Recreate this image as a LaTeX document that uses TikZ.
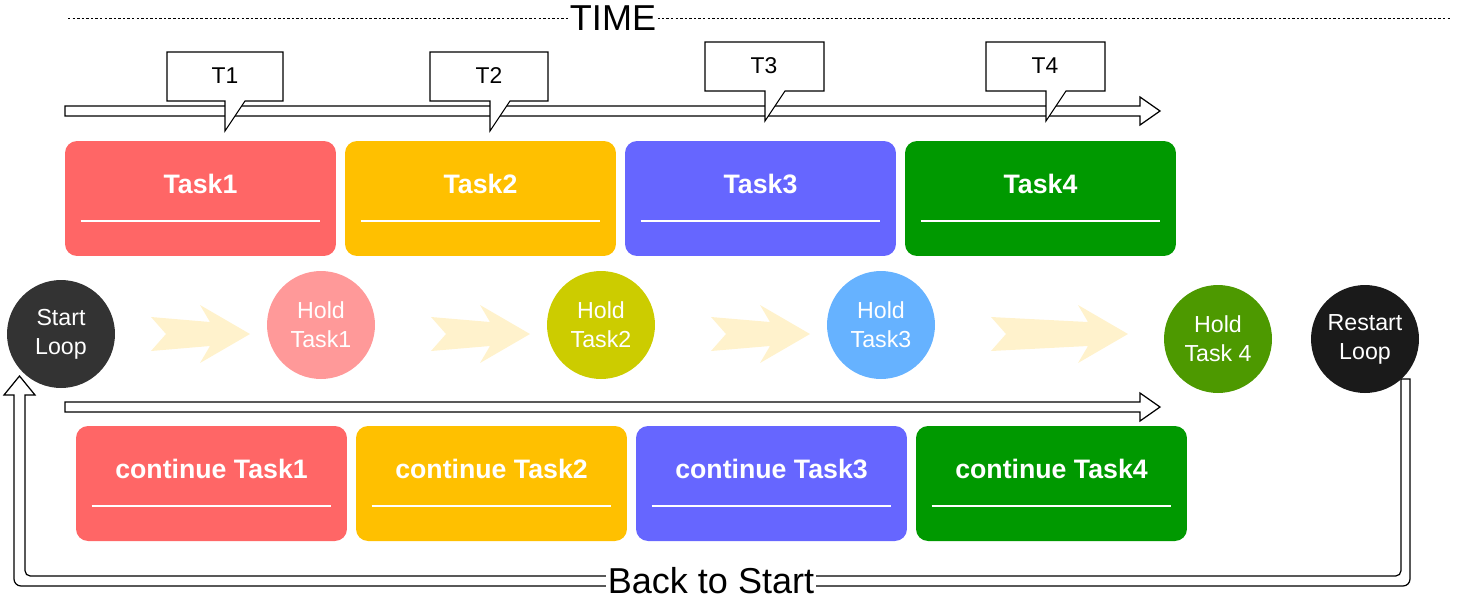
\documentclass[tikz,border=0pt]{standalone}
\usepackage{fontspec}
\setmainfont{Liberation Sans}
\usetikzlibrary{calc}

\definecolor{taskred}{HTML}{FF6666}
\definecolor{taskyellow}{HTML}{FFC000}
\definecolor{taskblue}{HTML}{6666FF}
\definecolor{taskgreen}{HTML}{009900}
\definecolor{holdred}{HTML}{FF9999}
\definecolor{holdyellow}{HTML}{CCCC00}
\definecolor{holdblue}{HTML}{66B2FF}
\definecolor{holdgreen}{HTML}{4D9900}
\definecolor{loopdark}{HTML}{333333}
\definecolor{loopblack}{HTML}{1A1A1A}
\definecolor{chevroncol}{HTML}{FFF2CC}

\tikzset{
  taskbox/.style={rounded corners=0.24cm, minimum width=5.42cm, minimum height=2.3cm, inner sep=0pt},
  tasktext/.style={text=white, font=\fontsize{15.2}{18}\selectfont\bfseries, inner sep=0pt},
  taskline/.style={white, line width=1.1pt},
  loopcircle/.style={circle, minimum size=2.16cm, inner sep=0pt, text=white, align=center, font=\fontsize{13.2}{16.6}\selectfont},
  calloutbox/.style={draw, fill=white, line width=0.6pt},
  hollowarrow/.style={draw, fill=white, line width=0.7pt},
  bigtext/.style={fill=white, inner sep=1pt, font=\fontsize{20.5}{24}\selectfont}
}

\begin{document}
\begin{tikzpicture}[x=0.02cm, y=-0.02cm]
        \useasboundingbox (0, 0) rectangle (1457, 603);

        % time line
        \draw [line width=0.5pt, dash pattern=on 1.4pt off 1.2pt] (68, 18) -- (1452, 18);
        \node [bigtext] (time) at (613, 18) {TIME};

        % back loop
        \draw [hollowarrow] (1401, 379) [rounded corners=3pt] -- (1401, 576) -- (25, 576) [sharp corners] -- (25, 395) -- (35, 395) -- (19.5, 376) -- (4, 395) -- (14, 395) [rounded corners=4pt] -- (14, 586) -- (1410, 586) [sharp corners] -- (1410, 379) -- cycle;
        \node [bigtext] (back) at (711, 581) {Back to Start};

        % time arrows
        \draw [hollowarrow] (65, 106) -- (1140, 106) -- (1140, 97) -- (1160, 111) -- (1140, 125) -- (1140, 116) -- (65, 116) -- cycle;
        \draw [hollowarrow] (65, 402) -- (1140, 402) -- (1140, 393) -- (1160, 407) -- (1140, 421) -- (1140, 412) -- (65, 412) -- cycle;

        % callouts
        \draw [calloutbox] (167, 52) -- (283, 52) -- (283, 101) -- (245, 101) -- (225, 131) -- (225, 101) -- (167, 101) -- cycle;
        \node [font=\fontsize{13}{16}\selectfont] (t1) at (225, 76) {T1};
        \draw [calloutbox] (430, 52) -- (548, 52) -- (548, 101) -- (510, 101) -- (490, 131) -- (490, 101) -- (430, 101) -- cycle;
        \node [font=\fontsize{13}{16}\selectfont] (t2) at (489, 76) {T2};
        \draw [calloutbox] (705, 42) -- (824, 42) -- (824, 91) -- (785, 91) -- (765, 121) -- (765, 91) -- (705, 91) -- cycle;
        \node [font=\fontsize{13}{16}\selectfont] (t3) at (764, 66) {T3};
        \draw [calloutbox] (986, 42) -- (1105, 42) -- (1105, 91) -- (1066, 91) -- (1046, 121) -- (1046, 91) -- (986, 91) -- cycle;
        \node [font=\fontsize{13}{16}\selectfont] (t4) at (1045, 66) {T4};

        % tasks
        \node [taskbox, fill=taskred] (task1) at (200.5, 198.5) {};
        \node [taskbox, fill=taskyellow] (task2) at (480.5, 198.5) {};
        \node [taskbox, fill=taskblue] (task3) at (760.5, 198.5) {};
        \node [taskbox, fill=taskgreen] (task4) at (1040.5, 198.5) {};
        \node [tasktext] at ($(task1.north)+(0, 43)$) {Task1};
        \node [tasktext] at ($(task2.north)+(0, 43)$) {Task2};
        \node [tasktext] at ($(task3.north)+(0, 43)$) {Task3};
        \node [tasktext] at ($(task4.north)+(0, 43)$) {Task4};
        \draw [taskline] ($(task1.north west)+(16, 80)$) -- ($(task1.north east)+(-16, 80)$);
        \draw [taskline] ($(task2.north west)+(16, 80)$) -- ($(task2.north east)+(-16, 80)$);
        \draw [taskline] ($(task3.north west)+(16, 80)$) -- ($(task3.north east)+(-16, 80)$);
        \draw [taskline] ($(task4.north west)+(16, 80)$) -- ($(task4.north east)+(-16, 80)$);

        % continued tasks
        \node [taskbox, fill=taskred] (cont1) at (211.5, 483.5) {};
        \node [taskbox, fill=taskyellow] (cont2) at (491.5, 483.5) {};
        \node [taskbox, fill=taskblue] (cont3) at (771.5, 483.5) {};
        \node [taskbox, fill=taskgreen] (cont4) at (1051.5, 483.5) {};
        \node [tasktext] at ($(cont1.north)+(0, 43)$) {continue Task1};
        \node [tasktext] at ($(cont2.north)+(0, 43)$) {continue Task2};
        \node [tasktext] at ($(cont3.north)+(0, 43)$) {continue Task3};
        \node [tasktext] at ($(cont4.north)+(0, 43)$) {continue Task4};
        \draw [taskline] ($(cont1.north west)+(16, 80)$) -- ($(cont1.north east)+(-16, 80)$);
        \draw [taskline] ($(cont2.north west)+(16, 80)$) -- ($(cont2.north east)+(-16, 80)$);
        \draw [taskline] ($(cont3.north west)+(16, 80)$) -- ($(cont3.north east)+(-16, 80)$);
        \draw [taskline] ($(cont4.north west)+(16, 80)$) -- ($(cont4.north east)+(-16, 80)$);

        % chevrons
        \fill [chevroncol] (151, 317) -- (166, 334) -- (151, 351) -- (210, 346) -- (200, 363) -- (250, 334) -- (200, 305) -- (210, 322) -- cycle;
        \begin{scope}[shift={(280, 0)}]
          \fill [chevroncol] (151, 317) -- (166, 334) -- (151, 351) -- (210, 346) -- (200, 363) -- (250, 334) -- (200, 305) -- (210, 322) -- cycle;
        \end{scope}
        \begin{scope}[shift={(560, 0)}]
          \fill [chevroncol] (151, 317) -- (166, 334) -- (151, 351) -- (210, 346) -- (200, 363) -- (250, 334) -- (200, 305) -- (210, 322) -- cycle;
        \end{scope}
        \fill [chevroncol] (991, 317) -- (1006, 334) -- (991, 351) -- (1088, 346) -- (1078, 363) -- (1128, 334) -- (1078, 305) -- (1088, 322) -- cycle;

        % circles
        \node [loopcircle, fill=loopdark] (start) at (61, 334) {Start\\Loop};
        \node [loopcircle, fill=holdred] (hold1) at (321, 325) {Hold\\Task1};
        \node [loopcircle, fill=holdyellow] (hold2) at (601, 325) {Hold\\Task2};
        \node [loopcircle, fill=holdblue] (hold3) at (881, 325) {Hold\\Task3};
        \node [loopcircle, fill=holdgreen] (hold4) at (1218, 339) {Hold\\Task 4};
        \node [loopcircle, fill=loopblack] (restart) at (1365, 339) {Restart\\Loop};
      \end{tikzpicture}
\end{document}
